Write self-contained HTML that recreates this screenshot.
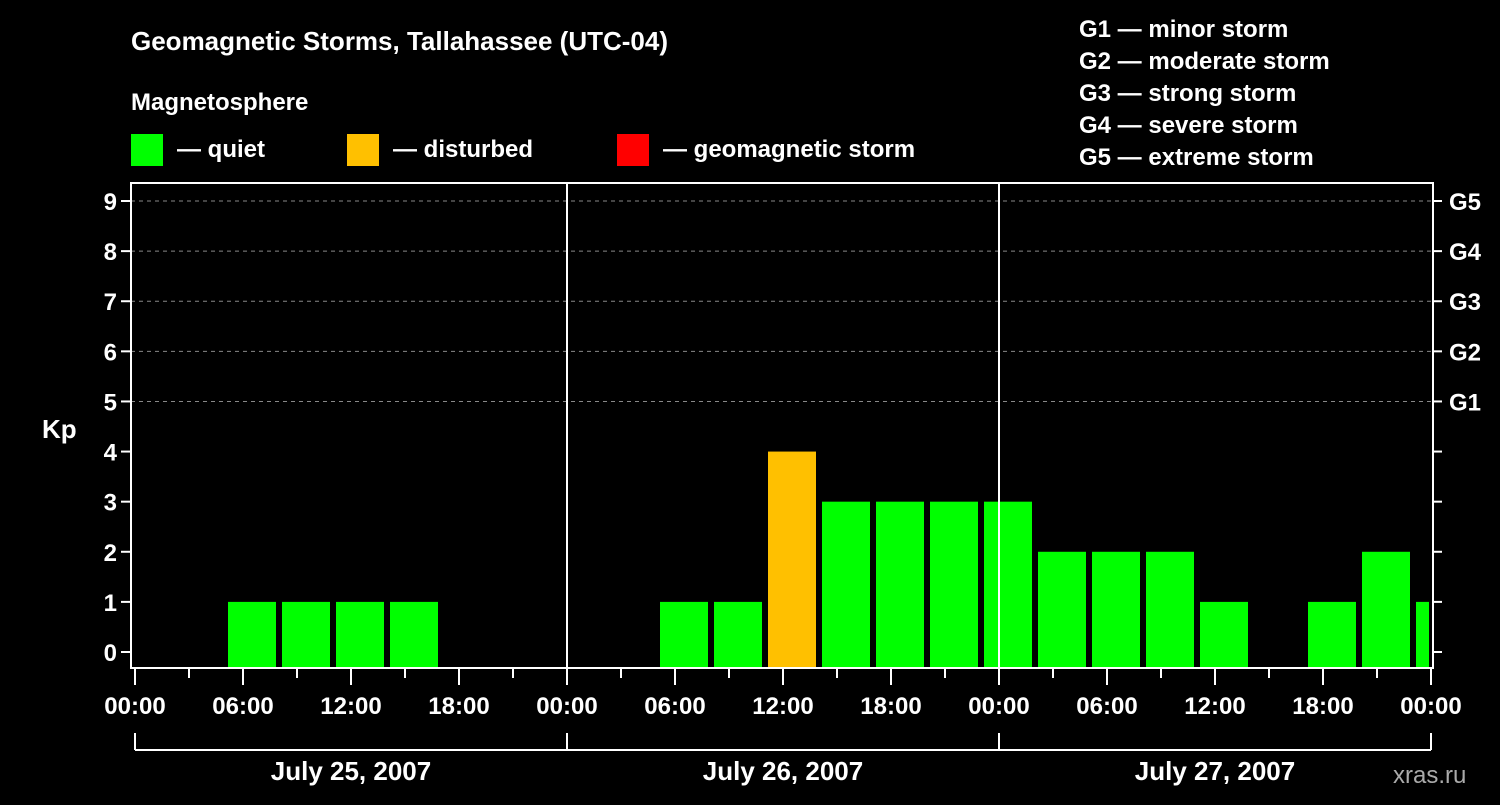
<!DOCTYPE html>
<html><head><meta charset="utf-8"><style>
body{margin:0;background:#000;width:1500px;height:800px;overflow:hidden}
svg text{font-family:"Liberation Sans",Arial,sans-serif;font-weight:bold;fill:#fff}
</style></head><body>
<svg id="c" width="1500" height="800" xmlns="http://www.w3.org/2000/svg">
<rect width="1500" height="800" fill="#000"/>
<text x="131" y="50" font-size="26">Geomagnetic Storms, Tallahassee (UTC-04)</text>
<text x="131" y="110" font-size="24">Magnetosphere</text>
<rect x="131" y="134" width="32" height="32" fill="#00ff00"/>
<text x="177" y="157" font-size="24">— quiet</text>
<rect x="347" y="134" width="32" height="32" fill="#ffc000"/>
<text x="393" y="157" font-size="24">— disturbed</text>
<rect x="617" y="134" width="32" height="32" fill="#ff0000"/>
<text x="663" y="157" font-size="24">— geomagnetic storm</text>
<g font-size="24">
<text x="1079" y="37">G1 — minor storm</text>
<text x="1079" y="69">G2 — moderate storm</text>
<text x="1079" y="101">G3 — strong storm</text>
<text x="1079" y="133">G4 — severe storm</text>
<text x="1079" y="165">G5 — extreme storm</text>
</g>
<text x="42" y="438" font-size="26">Kp</text>
<text x="1393" y="783" font-size="24" fill="#aaa" style="fill:#aaa;font-weight:normal">xras.ru</text>
<g id="g"></g>
</svg>
<script>
const kpValues=[0,1,1,1,1,0,0,0,0,1,1,4,3,3,3,3,2,2,2,1,0,1,2,1];
const yTicks=[0,1,2,3,4,5,6,7,8,9];
const gLabels=["G1","G2","G3","G4","G5"];
const xTickLabels=["00:00","06:00","12:00","18:00","00:00","06:00","12:00","18:00","00:00","06:00","12:00","18:00","00:00"];
const dayLabels=["July 25, 2007","July 26, 2007","July 27, 2007"];
const firstBarHour=2;
const L=131,R=1433,T=183,B=668;
const x=h=>135+h*18;
const y=v=>652-v*50.11;
const g=document.getElementById('g');
const NS="http://www.w3.org/2000/svg";
function mk(t,a){const e=document.createElementNS(NS,t);for(const k in a)e.setAttribute(k,a[k]);g.appendChild(e);return e;}
yTicks.forEach(v=>{
 if(v>=5){const l=mk('line',{x1:L,x2:R,y1:y(v),y2:y(v),stroke:'#888','stroke-dasharray':'4,4'});
 
 }
 const t=mk('line',{x1:L-10,x2:L,y1:y(v),y2:y(v),stroke:'#fff','stroke-width':2});
 
 
 const t2=mk('line',{x1:R,x2:R+9,y1:y(v),y2:y(v),stroke:'#fff','stroke-width':2});
 
 
 const tx=mk('text',{x:L-14,y:y(v)+9,'text-anchor':'end','font-size':24});tx.textContent=v;
 
 
});
gLabels.forEach((s,i)=>{const tx=mk('text',{x:R+16,y:y(5+i)+9,'font-size':24});tx.textContent=s;
 
 });
kpValues.forEach((v,i)=>{
 if(v<=0)return;
 const h=firstBarHour+i*3;
 const x0=x(h)+3;let x1=x(h+3)-3;if(x1>R-4)x1=R-4;
 const c=v>=5?'#ff0000':v>=4?'#ffc000':'#00ff00';
 const r=mk('rect',{x:x0,y:y(v),width:x1-x0,height:B-y(v),fill:c});
 
 
});
[1,2].forEach(d=>{const l=mk('line',{x1:x(d*24),x2:x(d*24),y1:T,y2:B,stroke:'#fff','stroke-width':2});
 
 });
const f=mk('rect',{x:L,y:T,width:R-L,height:B-T,fill:'none',stroke:'#fff','stroke-width':2});


for(let h=0;h<=72;h+=3){const l=mk('line',{x1:x(h),x2:x(h),y1:B,y2:h%6==0?685:678,stroke:'#fff','stroke-width':2});
 
 }
xTickLabels.forEach((s,i)=>{const tx=mk('text',{x:x(i*6),y:714,'text-anchor':'middle','font-size':24});tx.textContent=s;
 
 });
const br=mk('line',{x1:x(0),x2:x(72),y1:750,y2:750,stroke:'#fff','stroke-width':2});


for(let d=0;d<=3;d++){const l=mk('line',{x1:x(d*24),x2:x(d*24),y1:733,y2:750,stroke:'#fff','stroke-width':2});
 
 }
dayLabels.forEach((s,i)=>{const tx=mk('text',{x:x(i*24+12),y:780,'text-anchor':'middle','font-size':26});tx.textContent=s;
 
 });
</script>
</body></html>
